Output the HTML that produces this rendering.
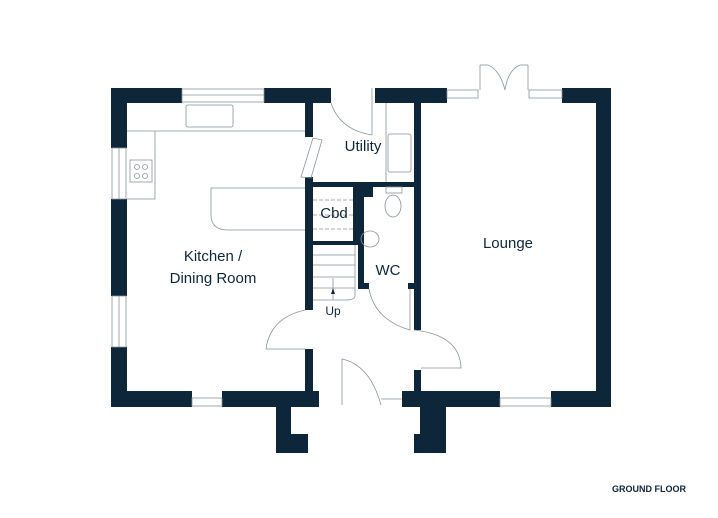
<!DOCTYPE html>
<html><head><style>
html,body{margin:0;padding:0;background:#fff;width:718px;height:518px;overflow:hidden}
svg{display:block}
text{font-family:"Liberation Sans",sans-serif;fill:#0d2639}
</style></head><body>
<svg width="718" height="518" viewBox="0 0 718 518" xmlns="http://www.w3.org/2000/svg">
<g fill="#0d2639">
<!-- kitchen top -->
<rect x="111" y="88" width="71" height="15"/>
<rect x="264" y="88" width="67" height="15"/>
<!-- kitchen left -->
<rect x="111" y="88" width="16" height="60"/>
<rect x="111" y="199" width="16" height="97"/>
<rect x="111" y="347" width="16" height="60"/>
<!-- bottom left -->
<rect x="111" y="391" width="81" height="16"/>
<rect x="222" y="391" width="97" height="16"/>
<rect x="276" y="406" width="15" height="47"/>
<rect x="276" y="434" width="32" height="19"/>
<!-- bottom right -->
<rect x="402" y="391" width="98" height="16"/>
<rect x="551" y="391" width="60" height="16"/>
<rect x="420" y="406" width="26" height="47"/>
<rect x="414" y="434" width="32" height="19"/>
<!-- lounge right & top -->
<rect x="596" y="88" width="15" height="319"/>
<rect x="375" y="88" width="72" height="15"/>
<rect x="562" y="88" width="49" height="15"/>
<!-- interior -->
<rect x="305" y="103" width="8" height="34"/>
<rect x="305" y="177" width="8" height="133"/>
<rect x="305" y="349" width="8" height="42"/>
<rect x="313" y="182" width="107" height="5"/>
<rect x="353" y="182" width="5" height="63"/>
<rect x="313" y="241" width="45" height="4"/>
<rect x="358" y="182" width="15" height="15"/>
<rect x="358" y="182" width="6" height="107"/>
<rect x="358" y="283" width="11" height="6"/>
<rect x="408" y="283" width="12" height="6"/>
<rect x="414" y="103" width="7" height="227"/>
<rect x="414" y="370" width="7" height="21"/>
</g>
<g fill="none" stroke="#8a939b" stroke-width="0.8">
<!-- windows -->
<rect x="182" y="89" width="82" height="13"/><line x1="182" y1="95" x2="264" y2="95"/>
<rect x="112" y="148" width="14" height="51"/><line x1="119" y1="148" x2="119" y2="199"/>
<rect x="112" y="296" width="14" height="51"/><line x1="119" y1="296" x2="119" y2="347"/>
<rect x="192" y="398" width="30" height="8"/>
<rect x="447" y="90" width="31" height="8"/><rect x="529" y="90" width="33" height="8"/>
<rect x="500" y="398" width="51" height="8"/>
<!-- lounge french door -->
<path d="M480 65 L480 90 M528 65 L528 90 M480 65 L488 65 Q500 70 505 90 M528 65 L520 65 Q508 70 505 90"/>
<!-- kitchen units -->
<path d="M127 131 H305 M155 131 V199 H127"/>
<rect x="186" y="105" width="47" height="22" rx="2"/>
<rect x="130" y="160" width="22" height="22"/>
<circle cx="137" cy="167" r="2.5"/><circle cx="145" cy="167" r="2.5"/><circle cx="137" cy="176" r="2.5"/><circle cx="145" cy="176" r="2.5"/>
<path d="M305 188 H211 V215 Q211 230 228 230 H305"/>
<!-- kitchen door -->
<path d="M313 138 L322 140 L311 178 L301 177 Z"/>
<!-- utility door -->
<path d="M372 88 V135 M331 103 Q340 130 372 135"/>
<line x1="386" y1="103" x2="386" y2="182"/>
<rect x="388" y="134" width="23" height="38" rx="2"/>
<!-- WC -->
<ellipse cx="393" cy="206" rx="8" ry="11"/><rect x="386" y="187" width="16" height="6"/>
<ellipse cx="370" cy="239" rx="9" ry="8"/>
<!-- cbd dashed -->
<path d="M313 200 H353 M313 215 H353 M313 229 H353" stroke-dasharray="4 2"/>
<!-- stairs -->
<path d="M313 255 H355 M313 265 H355 M313 277 H355 M313 288 H355 M355 245 V296 Q355 300 345 300 H313 M333 300 V278"/>
<!-- hall doors -->
<path d="M305 310 Q270 318 266 349 H305"/>
<path d="M369 289 Q375 320 410 330 V289 M414 330 Q460 335 461 368 H421"/>
<path d="M342 359 V405 M342 359 Q370 365 381 405 M381 399 H402"/>
</g>
<path d="M333 288 l-2 6 h4 z" fill="#0d2639"/>
<text x="363" y="151" font-size="15" text-anchor="middle">Utility</text>
<text x="334" y="218" font-size="15" text-anchor="middle">Cbd</text>
<text x="213" y="261" font-size="15" text-anchor="middle">Kitchen /</text>
<text x="213" y="283" font-size="15" text-anchor="middle">Dining Room</text>
<text x="388" y="275" font-size="15" text-anchor="middle">WC</text>
<text x="508" y="248" font-size="15" text-anchor="middle">Lounge</text>
<text x="333" y="315" font-size="12" text-anchor="middle">Up</text>
<text x="649" y="492" font-size="9" font-weight="bold" text-anchor="middle">GROUND FLOOR</text>
</svg>
</body></html>
